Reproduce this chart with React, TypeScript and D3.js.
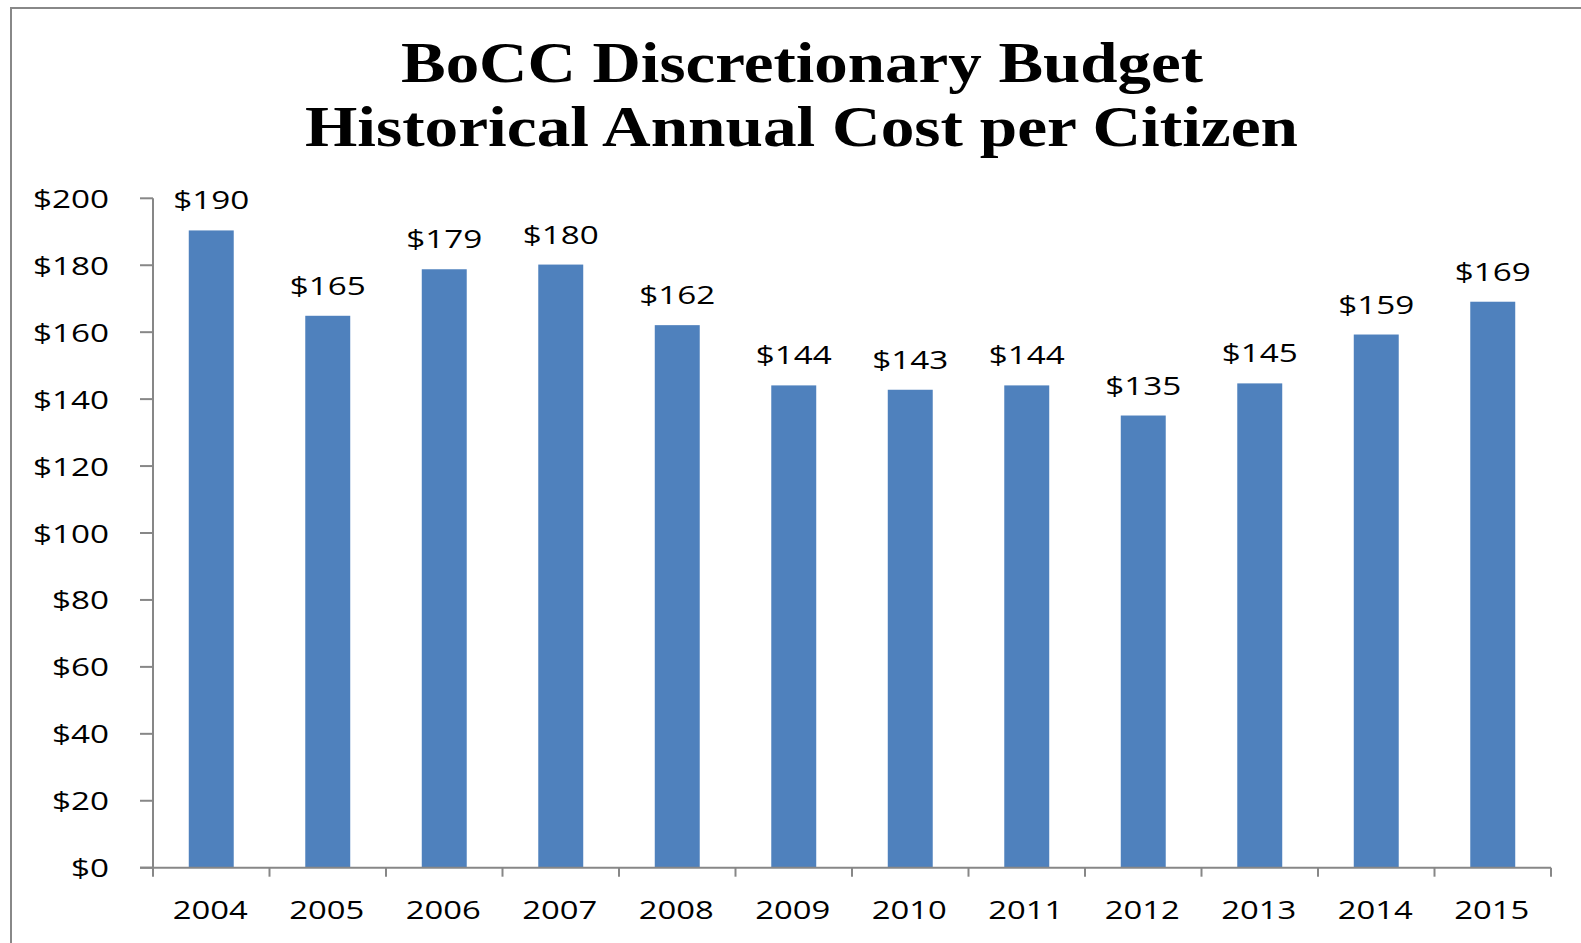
import React from "react";
import * as d3 from "d3";

const years = ["2004", "2005", "2006", "2007", "2008", "2009", "2010", "2011", "2012", "2013", "2014", "2015"];
const costPerCitizen = [190.4, 164.9, 178.8, 180.2, 162.1, 144.1, 142.8, 144.1, 135.1, 144.7, 159.3, 169.1];
const yTicks = [0, 20, 40, 60, 80, 100, 120, 140, 160, 180, 200];
const titleLines = ["BoCC Discretionary Budget", "Historical Annual Cost per Citizen"];

const W = 1581;
const H = 943;

export default function App() {
  const x = d3
    .scaleBand<string>()
    .domain(years)
    .range([153, 1551])
    .paddingInner(0.614)
    .paddingOuter(0.307);
  const y = d3.scaleLinear().domain([0, 200]).range([867.7, 198.3]);
  const step = x.step();
  const x0 = 153;
  const fmt = (v: number) => "$" + d3.format(".0f")(v);
  const charW = 19;
  const labelFont = "'Open Sans', 'DejaVu Sans', sans-serif";

  return (
    <svg
      width={W}
      height={H}
      style={{ position: "absolute", left: 0, top: 0, background: "#fff" }}
    >
      <rect x={0} y={0} width={W} height={H} fill="#fff" />
      {/* chart border */}
      <path d={`M11,${H} V8 H${W}`} fill="none" stroke="#888" strokeWidth={2} />

      {/* title */}
      <g fontFamily="'Liberation Serif', 'Times New Roman', serif" fontWeight="bold" fontSize={58} fill="#000">
        <text x={802} y={81.7} textAnchor="middle" textLength={802} lengthAdjust="spacingAndGlyphs">
          {titleLines[0]}
        </text>
        <text x={801.5} y={146} textAnchor="middle" textLength={993} lengthAdjust="spacingAndGlyphs">
          {titleLines[1]}
        </text>
      </g>

      {/* bars */}
      {years.map((yr, i) => (
        <rect
          key={yr}
          x={x(yr)!}
          y={y(costPerCitizen[i])}
          width={x.bandwidth()}
          height={y(0) - y(costPerCitizen[i])}
          fill="#4F81BD"
        />
      ))}

      {/* data labels */}
      <g fontFamily={labelFont} fontSize={25} fill="#000">
        {years.map((yr, i) => {
          const t = fmt(costPerCitizen[i]);
          return (
            <text
              key={yr}
              x={x(yr)! + x.bandwidth() / 2}
              y={y(costPerCitizen[i]) - 21}
              textAnchor="middle"
              textLength={t.length * charW}
              lengthAdjust="spacingAndGlyphs"
            >
              {t}
            </text>
          );
        })}
      </g>

      {/* y axis */}
      <g stroke="#878787" strokeWidth={2}>
        <line x1={x0} x2={x0} y1={y(200)} y2={y(0)} />
        {yTicks.map((t) => (
          <line key={t} x1={140} x2={x0} y1={y(t)} y2={y(t)} />
        ))}
        <line x1={x0 - 13} x2={1551} y1={y(0)} y2={y(0)} />
        {d3.range(years.length + 1).map((i) => (
          <line key={i} x1={x0 + i * step} x2={x0 + i * step} y1={y(0)} y2={y(0) + 9} />
        ))}
      </g>
      <g fontFamily={labelFont} fontSize={25} fill="#000">
        {yTicks.map((t) => {
          const s = fmt(t);
          return (
            <text
              key={t}
              x={109}
              y={y(t) + 9.5}
              textAnchor="end"
              textLength={s.length * charW}
              lengthAdjust="spacingAndGlyphs"
            >
              {s}
            </text>
          );
        })}
        {years.map((yr) => (
          <text
            key={yr}
            x={x(yr)! + x.bandwidth() / 2 - 1}
            y={919.3}
            textAnchor="middle"
            textLength={yr.length * 18.75}
            lengthAdjust="spacingAndGlyphs"
          >
            {yr}
          </text>
        ))}
      </g>
    </svg>
  );
}
